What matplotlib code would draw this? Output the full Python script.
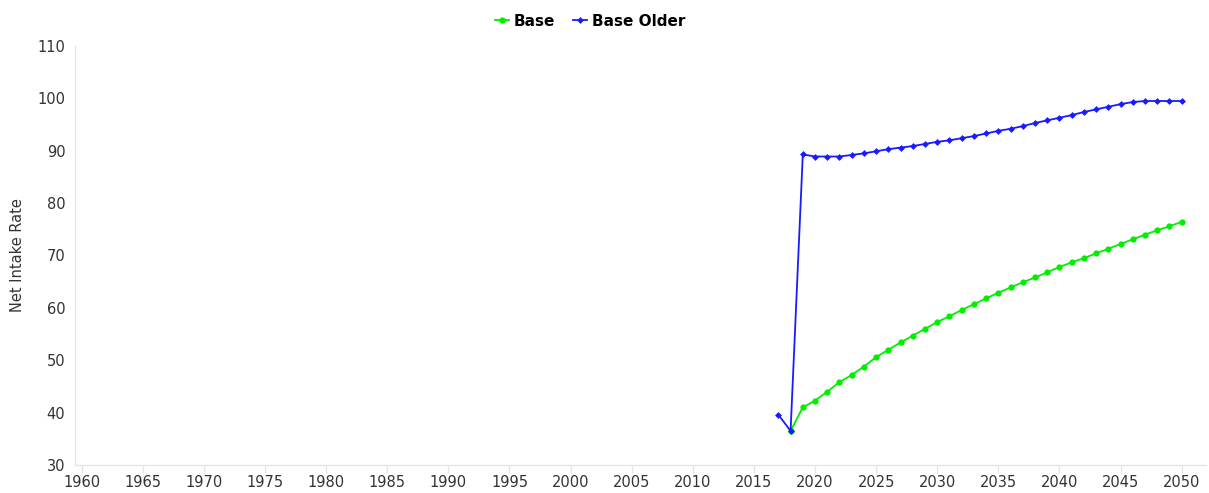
import numpy as np
from matplotlib import pyplot as plt
from matplotlib.lines import Line2D

years_base = list(range(2018, 2051))
base = [36.5, 41.0, 42.3, 44.0, 45.8, 47.2, 48.8, 50.6, 52.0, 53.4, 54.7, 56.0,
        57.3, 58.4, 59.6, 60.7, 61.8, 62.9, 63.9, 64.9, 65.8, 66.8, 67.8, 68.7,
        69.5, 70.4, 71.3, 72.2, 73.1, 74.0, 74.8, 75.6, 76.4]

years_older = list(range(2017, 2051))
base_older = [39.6, 36.5, 89.3, 88.9, 88.9, 88.9, 89.2, 89.5, 89.9, 90.3, 90.6,
              90.9, 91.3, 91.7, 92.0, 92.4, 92.8, 93.3, 93.8, 94.2, 94.7, 95.3,
              95.8, 96.3, 96.8, 97.4, 97.9, 98.4, 98.9, 99.3, 99.5, 99.5, 99.5, 99.5]

xticks = list(range(1960, 2051, 5))
yticks = list(range(30, 111, 10))

plt.rcParams['font.family'] = ['DejaVu Sans']
fig = plt.figure(figsize=(12.09, 4.93), dpi=100)
# axes box in pixels: left 75, right 1206, top 46, bottom 465
ax = fig.add_axes([75 / 1209, 1 - 465 / 493, (1206 - 75) / 1209, (465 - 46) / 493])

ax.plot(years_base, base, color='#00ee00', lw=1.3, marker='o', ms=4.5,
        markeredgewidth=0, label='Base', zorder=3)
ax.plot(years_older, base_older, color='#1a1aff', lw=1.3, marker='D', ms=3.5,
        markeredgewidth=0, label='Base Older', zorder=4)

ppy = (1181.7 - 81.7) / 90.0  # pixels per year
ax.set_xlim(1960 - (81.7 - 75) / ppy, 2050 + (1206 - 1181.7) / ppy)
ax.set_ylim(30, 110)
ax.set_xticks(xticks)
ax.set_yticks(yticks)

for s in ['top', 'right']:
    ax.spines[s].set_visible(False)
for s in ['left', 'bottom']:
    ax.spines[s].set_color('#dfe6f0')
    ax.spines[s].set_linewidth(1.0)

ax.tick_params(axis='x', colors='#dfe6f0', length=6, width=1, labelcolor='#333333',
               labelsize=10.5, pad=1)
ax.tick_params(axis='y', length=0, labelcolor='#333333', labelsize=10.5, pad=7)
ax.set_ylabel('Net Intake Rate', fontsize=10.5, color='#333333')
ax.yaxis.set_label_coords(25 / 1209, 0.5 * (1 - 465 / 493 + 1 - 46 / 493),
                          transform=fig.transFigure)

handles = [
    Line2D([], [], color='#00ee00', lw=1.3, marker='o', ms=4.5, markeredgewidth=0),
    Line2D([], [], color='#1a1aff', lw=1.3, marker='D', ms=3.5, markeredgewidth=0),
]
fig.legend(handles, ['Base', 'Base Older'], loc='center', bbox_to_anchor=(590 / 1209, 1 - 21 / 493),
           ncol=2, frameon=False, handlelength=0.9, handletextpad=0.3, columnspacing=1.2,
           prop={'weight': 'bold', 'size': 11})

fig.savefig('out.png', dpi=100)
